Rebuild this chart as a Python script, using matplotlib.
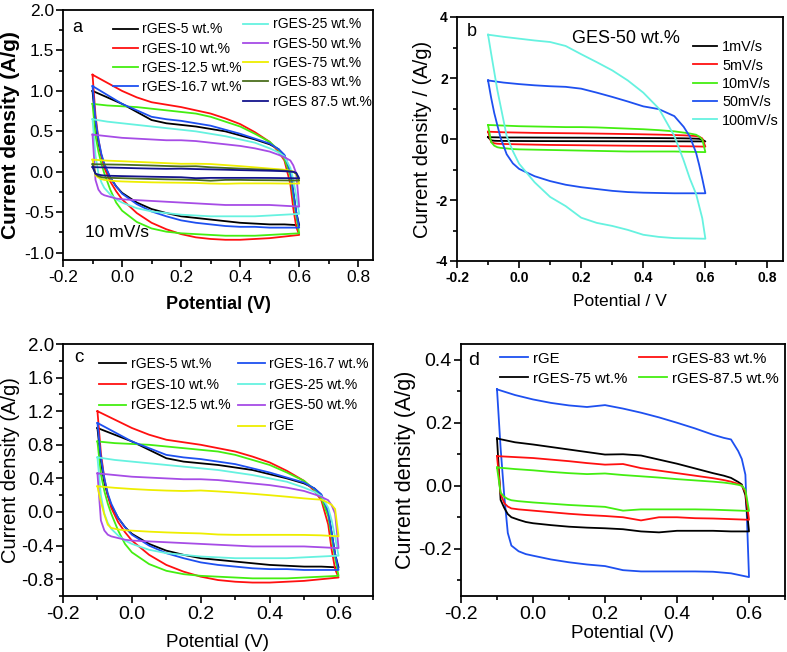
import matplotlib.pyplot as plt
from matplotlib.ticker import MultipleLocator, AutoMinorLocator

plt.rcParams['font.family'] = ['Liberation Sans', 'DejaVu Sans']
plt.rcParams['axes.unicode_minus'] = False

# potential grids (V): forward (upper) branch and reverse (lower) branch
v_up = [-0.1, -0.05, 0.0, 0.05, 0.1, 0.15, 0.2, 0.25, 0.3, 0.35, 0.4, 0.45,
        0.5, 0.53, 0.55, 0.57, 0.58, 0.59, 0.6]
v_dn = [0.6, 0.55, 0.5, 0.45, 0.4, 0.35, 0.3, 0.25, 0.2, 0.15, 0.1, 0.05,
        0.0, -0.02, -0.04, -0.06, -0.07, -0.08, -0.09, -0.1]

# current density (A/g) at 10 mV/s
ges5_up = [1.0, 0.92, 0.84, 0.74, 0.64, 0.6, 0.58, 0.56, 0.53, 0.5, 0.45, 0.4,
           0.34, 0.28, 0.2, 0.0, -0.25, -0.5, -0.66]
ges5_dn = [-0.66, -0.65, -0.65, -0.64, -0.63, -0.61, -0.59, -0.57, -0.55, -0.51,
           -0.46, -0.38, -0.26, -0.18, -0.07, 0.08, 0.2, 0.35, 0.6, 1.0]

ges10_up = [1.2, 1.1, 1.0, 0.92, 0.86, 0.83, 0.8, 0.76, 0.72, 0.66, 0.59, 0.49,
            0.37, 0.25, 0.14, -0.15, -0.45, -0.68, -0.78]
ges10_dn = [-0.78, -0.8, -0.82, -0.83, -0.84, -0.84, -0.83, -0.81, -0.77, -0.71,
            -0.63, -0.51, -0.34, -0.24, -0.12, 0.05, 0.2, 0.4, 0.7, 1.2]

ges12_up = [0.84, 0.82, 0.81, 0.8, 0.78, 0.76, 0.74, 0.72, 0.68, 0.62, 0.56, 0.47,
            0.37, 0.27, 0.16, -0.05, -0.3, -0.55, -0.76]
ges12_dn = [-0.76, -0.77, -0.78, -0.79, -0.79, -0.79, -0.78, -0.77, -0.76, -0.74,
            -0.7, -0.62, -0.48, -0.38, -0.22, -0.02, 0.1, 0.25, 0.45, 0.84]

ges16_up = [1.06, 0.95, 0.84, 0.76, 0.68, 0.65, 0.63, 0.6, 0.57, 0.52, 0.47, 0.41,
            0.35, 0.28, 0.21, 0.0, -0.25, -0.5, -0.69]
ges16_dn = [-0.69, -0.69, -0.69, -0.68, -0.68, -0.67, -0.65, -0.63, -0.6, -0.55,
            -0.49, -0.4, -0.27, -0.18, -0.07, 0.1, 0.22, 0.4, 0.65, 1.06]

ges25_up = [0.65, 0.62, 0.6, 0.58, 0.56, 0.54, 0.52, 0.5, 0.47, 0.44, 0.4, 0.36,
            0.29, 0.24, 0.19, 0.05, -0.1, -0.3, -0.52]
ges25_dn = [-0.52, -0.53, -0.54, -0.55, -0.55, -0.55, -0.55, -0.54, -0.53, -0.51,
            -0.49, -0.45, -0.38, -0.34, -0.28, -0.2, -0.13, -0.02, 0.2, 0.65]

ges50_up = [0.46, 0.44, 0.42, 0.41, 0.4, 0.39, 0.39, 0.38, 0.36, 0.34, 0.32, 0.29,
            0.25, 0.21, 0.18, 0.14, 0.08, -0.02, -0.43]
ges50_dn = [-0.43, -0.42, -0.41, -0.41, -0.41, -0.41, -0.4, -0.39, -0.38, -0.37,
            -0.36, -0.35, -0.34, -0.33, -0.31, -0.29, -0.27, -0.22, -0.1, 0.46]

ges75_up = [0.15, 0.138, 0.131, 0.123, 0.115, 0.107, 0.099, 0.1, 0.096, 0.083, 0.07,
            0.055, 0.04, 0.032, 0.025, 0.012, 0.004, -0.03, -0.145]
ges75_dn = [-0.145, -0.145, -0.143, -0.143, -0.143, -0.148, -0.145, -0.138, -0.135,
            -0.133, -0.13, -0.125, -0.119, -0.115, -0.108, -0.1, -0.09, -0.07, -0.045, 0.15]

ges83_up = [0.094, 0.091, 0.088, 0.083, 0.078, 0.072, 0.067, 0.069, 0.056, 0.048,
            0.04, 0.032, 0.024, 0.018, 0.013, 0.006, 0.0, -0.02, -0.108]
ges83_dn = [-0.108, -0.106, -0.104, -0.103, -0.1, -0.1, -0.11, -0.1, -0.096, -0.093,
            -0.089, -0.084, -0.079, -0.077, -0.075, -0.072, -0.066, -0.055, -0.025, 0.094]

ges87_up = [0.058, 0.053, 0.049, 0.044, 0.04, 0.037, 0.039, 0.034, 0.03, 0.026, 0.021,
            0.017, 0.013, 0.01, 0.007, 0.003, 0.0, -0.013, -0.08]
ges87_dn = [-0.08, -0.078, -0.076, -0.075, -0.075, -0.075, -0.075, -0.079, -0.067,
            -0.064, -0.061, -0.057, -0.053, -0.051, -0.049, -0.046, -0.042, -0.035, -0.022, 0.058]

rge_up = [0.306, 0.288, 0.274, 0.263, 0.255, 0.25, 0.256, 0.245, 0.232, 0.217, 0.2,
          0.182, 0.162, 0.152, 0.147, 0.11, 0.085, 0.035, -0.29]
rge_dn = [-0.29, -0.278, -0.273, -0.272, -0.272, -0.272, -0.272, -0.268, -0.255, -0.25,
          -0.243, -0.234, -0.222, -0.217, -0.208, -0.19, -0.15, -0.03, 0.12, 0.306]

# GES-50 wt.% at other scan rates
r1_up = [0.06, 0.05, 0.05, 0.048, 0.046, 0.044, 0.043, 0.041, 0.039, 0.036, 0.033,
         0.03, 0.026, 0.022, 0.018, 0.012, 0.006, -0.02, -0.08]
r1_dn = [-0.08, -0.078, -0.077, -0.076, -0.075, -0.074, -0.073, -0.072, -0.071, -0.07,
         -0.069, -0.068, -0.066, -0.065, -0.064, -0.063, -0.062, -0.058, -0.045, 0.06]

r5_up = [0.24, 0.22, 0.21, 0.2, 0.195, 0.19, 0.185, 0.178, 0.17, 0.162, 0.153, 0.143,
         0.13, 0.12, 0.11, 0.095, 0.075, 0.02, -0.25]
r5_dn = [-0.25, -0.24, -0.235, -0.23, -0.225, -0.22, -0.215, -0.21, -0.205, -0.2,
         -0.195, -0.185, -0.175, -0.17, -0.165, -0.16, -0.155, -0.14, -0.1, 0.24]

r50_up = [1.92, 1.85, 1.8, 1.76, 1.73, 1.71, 1.65, 1.52, 1.38, 1.23, 1.07, 0.98,
          0.75, 0.4, 0.08, -0.45, -0.85, -1.3, -1.78]
r50_dn = [-1.78, -1.78, -1.78, -1.77, -1.76, -1.74, -1.7, -1.64, -1.58, -1.5, -1.38,
          -1.22, -0.98, -0.8, -0.5, 0.05, 0.45, 0.85, 1.35, 1.92]

r100_up = [3.42, 3.35, 3.29, 3.23, 3.18, 3.05, 2.78, 2.52, 2.25, 1.92, 1.52, 1.0,
           0.1, -0.7, -1.3, -1.8, -2.2, -2.6, -3.27]
r100_dn = [-3.27, -3.26, -3.25, -3.21, -3.14, -2.98, -2.85, -2.75, -2.58, -2.2, -1.9,
           -1.42, -0.81, -0.4, 0.1, 1.1, 1.6, 2.2, 2.8, 3.42]

c_black = '#000000'
c_red = '#ff1010'
c_green = '#44ee11'
c_blue = '#1e50f0'
c_cyan = '#66f2e0'
c_purple = '#a64ce6'
c_yellow = '#eeee00'
c_olive = '#4b6e1e'
c_navy = '#14148c'


def loop(ax, up, dn, color, label, lw=1.3):
    return ax.plot(v_up + v_dn, up + dn, color=color, lw=lw, label=label)[0]


def style(ax, xlim, ylim, xmaj, ymaj, size, bold=False, ysize=None):
    ax.set_xlim(*xlim)
    ax.set_ylim(*ylim)
    ax.xaxis.set_major_locator(MultipleLocator(xmaj))
    ax.yaxis.set_major_locator(MultipleLocator(ymaj))
    ax.xaxis.set_minor_locator(AutoMinorLocator(2))
    ax.yaxis.set_minor_locator(AutoMinorLocator(2))
    ax.tick_params(which='both', direction='out', top=False, right=False,
                   width=1.2, labelsize=size, pad=2)
    ax.tick_params(axis='y', pad=1.5, labelsize=ysize or size)
    ax.tick_params(which='major', length=5)
    ax.tick_params(which='minor', length=3)
    for s in ax.spines.values():
        s.set_linewidth(1.3)
    if bold:
        for t in ax.get_xticklabels() + ax.get_yticklabels():
            t.set_fontweight('bold')


fig = plt.figure(figsize=(7.87, 6.52), dpi=100)
W, H = 787, 652


def box(l, t, r, b):
    return fig.add_axes([l / W, 1 - b / H, (r - l) / W, (b - t) / H])


# ---- a
ax = box(63, 10, 373, 260)
h = []
h.append(loop(ax, ges5_up, ges5_dn, c_black, 'rGES-5 wt.%'))
h.append(loop(ax, ges10_up, ges10_dn, c_red, 'rGES-10 wt.%'))
h.append(loop(ax, ges12_up, ges12_dn, c_green, 'rGES-12.5 wt.%'))
h.append(loop(ax, ges16_up, ges16_dn, c_blue, 'rGES-16.7 wt.%'))
h.append(loop(ax, ges25_up, ges25_dn, c_cyan, 'rGES-25 wt.%'))
h.append(loop(ax, ges50_up, ges50_dn, c_purple, 'rGES-50 wt.%'))
h.append(loop(ax, ges75_up, ges75_dn, c_yellow, 'rGES-75 wt.%'))
h.append(loop(ax, ges83_up, ges83_dn, c_olive, 'rGES-83 wt.%'))
h.append(loop(ax, ges87_up, ges87_dn, c_navy, 'rGES 87.5 wt.%'))
style(ax, (-0.2, 0.85), (-1.09, 2.0), 0.2, 0.5, 12.5)
ax.set_xlabel('Potential (V)', fontsize=13, fontweight='bold', labelpad=8)
ax.set_ylabel('Current density (A/g)', fontsize=15, fontweight='bold', labelpad=3)
ax.text(0.03, 0.93, 'a', transform=ax.transAxes, fontsize=13, va='center')
ax.text(0.07, 0.108, '10 mV/s', transform=ax.transAxes, fontsize=12.5, va='center')
kw = dict(frameon=False, fontsize=10, handlelength=1.8, handletextpad=0.35,
          labelspacing=0.38, borderpad=0, borderaxespad=0, loc='upper left')
lg1 = ax.legend(handles=h[:4], bbox_to_anchor=(0.16, 0.95), **kw)
ax.add_artist(lg1)
ax.legend(handles=h[4:], bbox_to_anchor=(0.58, 0.97), **kw)

# ---- b
ax = box(457, 17, 783, 261)
h = []
h.append(loop(ax, r1_up, r1_dn, c_black, '1mV/s'))
h.append(loop(ax, r5_up, r5_dn, c_red, '5mV/s'))
h.append(loop(ax, ges50_up, ges50_dn, c_green, '10mV/s'))
h.append(loop(ax, r50_up, r50_dn, c_blue, '50mV/s'))
h.append(loop(ax, r100_up, r100_dn, c_cyan, '100mV/s'))
style(ax, (-0.2, 0.85), (-4, 4), 0.2, 2, 10, bold=True)
ax.set_xlabel('Potential / V', fontsize=12.5, labelpad=7)
ax.set_ylabel('Current density / (A/g)', fontsize=14.5, labelpad=3)
ax.text(0.03, 0.94, 'b', transform=ax.transAxes, fontsize=13, va='center')
ax.text(0.352, 0.913, 'GES-50 wt.%', transform=ax.transAxes, fontsize=13, va='center')
ax.legend(handles=h, frameon=False, fontsize=10.4, handlelength=1.7,
          handletextpad=0.35, labelspacing=0.3, borderpad=0, borderaxespad=0,
          loc='upper left', bbox_to_anchor=(0.723, 0.905))

# ---- c
ax = box(63, 344, 373, 596)
h = []
h.append(loop(ax, ges5_up, ges5_dn, c_black, 'rGES-5 wt.%'))
h.append(loop(ax, ges10_up, ges10_dn, c_red, 'rGES-10 wt.%'))
h.append(loop(ax, ges12_up, ges12_dn, c_green, 'rGES-12.5 wt.%'))
h.append(loop(ax, ges16_up, ges16_dn, c_blue, 'rGES-16.7 wt.%'))
h.append(loop(ax, ges25_up, ges25_dn, c_cyan, 'rGES-25 wt.%'))
h.append(loop(ax, ges50_up, ges50_dn, c_purple, 'rGES-50 wt.%'))
h.append(loop(ax, rge_up, rge_dn, c_yellow, 'rGE'))
style(ax, (-0.2, 0.7), (-1.0, 2.0), 0.2, 0.4, 14, ysize=13.5)
ax.set_xlabel('Potential (V)', fontsize=13.5, labelpad=8)
ax.set_ylabel('Current density (A/g)', fontsize=14.5, labelpad=1)
ax.text(0.035, 0.948, 'c', transform=ax.transAxes, fontsize=13.5, va='center')
kw = dict(frameon=False, fontsize=10, handlelength=1.9, handletextpad=0.35,
          labelspacing=0.5, borderpad=0, borderaxespad=0, loc='upper left')
lg1 = ax.legend(handles=h[:3], bbox_to_anchor=(0.117, 0.95), **kw)
ax.add_artist(lg1)
ax.legend(handles=h[3:], bbox_to_anchor=(0.565, 0.95), **kw)

# ---- d
ax = box(461, 344, 785, 596)
h = []
h.append(loop(ax, rge_up, rge_dn, c_blue, 'rGE'))
h.append(loop(ax, ges75_up, ges75_dn, c_black, 'rGES-75 wt.%'))
h.append(loop(ax, ges83_up, ges83_dn, c_red, 'rGES-83 wt.%'))
h.append(loop(ax, ges87_up, ges87_dn, c_green, 'rGES-87.5 wt.%'))
style(ax, (-0.2, 0.7), (-0.35, 0.45), 0.2, 0.2, 14)
ax.set_xlabel('Potential (V)', fontsize=13.5, labelpad=2)
ax.set_ylabel('Current density (A/g)', fontsize=15.5, labelpad=2)
ax.text(0.022, 0.933, 'd', transform=ax.transAxes, fontsize=14, va='center')
ax.legend(handles=h, ncol=2, frameon=False, fontsize=10.7, handlelength=1.9,
          handletextpad=0.3, labelspacing=0.4, columnspacing=0.8, borderpad=0,
          borderaxespad=0, loc='upper left', bbox_to_anchor=(0.12, 0.97))

fig.savefig('out.png', dpi=100)
